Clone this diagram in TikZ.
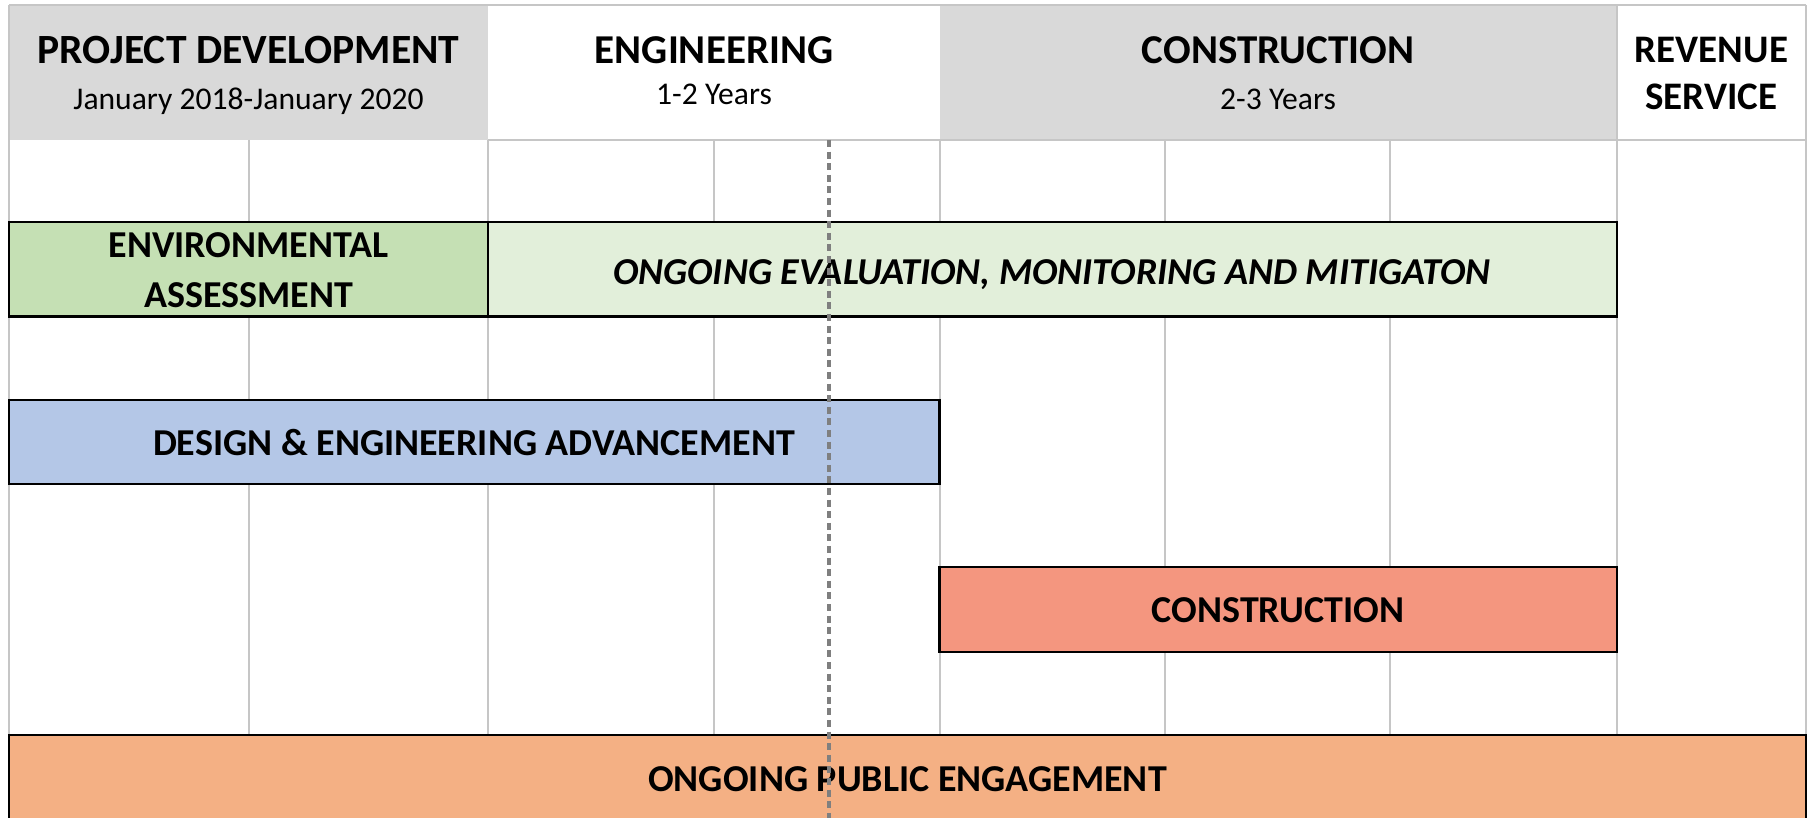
\documentclass[tikz,border=0pt]{standalone}
\usepackage{fontspec}
\setmainfont{Carlito}
\usepackage{xcolor}

\definecolor{headgray}{HTML}{D9D9D9}
\definecolor{gridgray}{HTML}{C6C6C6}
\definecolor{envgreen}{HTML}{C5E0B4}
\definecolor{evalgreen}{HTML}{E2EFDA}
\definecolor{designblue}{HTML}{B4C7E7}
\definecolor{buildred}{HTML}{F4967F}
\definecolor{publicorange}{HTML}{F4B084}
\definecolor{todaygray}{HTML}{7F7F7F}

\begin{document}
\begin{tikzpicture}[x=0.5pt,y=-0.5pt,
			grid line/.style={draw=gridgray,line width=1pt},
			bar/.style={draw=black,line width=1.2pt},
			head text/.style={anchor=base,font=\bfseries\fontsize{20.5}{24}\selectfont},
			sub text/.style={anchor=base,font=\fontsize{15.8}{19}\selectfont},
			bar text/.style={anchor=base,font=\bfseries\fontsize{19}{23}\selectfont}]
			
			\useasboundingbox[fill=white] (0,0) rectangle (1812,818);
			\clip (0,0) rectangle (1812,818);
			
			% header cells
			\fill[headgray] (9,5) rectangle (488,140);
			\fill[headgray] (939.5,5) rectangle (1617,140);
			
			% grid
			\path[grid line]
			(9,5) -- (1806,5)
			(488,140) -- (1806,140)
			(9,5) -- (9,735)
			(248.5,140) -- (248.5,735)
			(488,140) -- (488,735)
			(714,140) -- (714,735)
			(939.5,140) -- (939.5,735)
			(1165,140) -- (1165,735)
			(1390,140) -- (1390,735)
			(1617,5) -- (1617,735)
			(1806,5) -- (1806,735)
			;
			
			% header texts
			\node (pd) [head text,font=\bfseries\fontsize{20.8}{24}\selectfont] at (248.5,64) {PROJECT DEVELOPMENT};
			\node (pd dates) [sub text] at (248.5,110) {January 2018-January 2020};
			\node (eng) [head text] at (714,64) {ENGINEERING};
			\node (eng years) [sub text] at (714,105) {1-2 Years};
			\node (con) [head text] at (1278,64) {CONSTRUCTION};
			\node (con years) [sub text] at (1278,110) {2-3 Years};
			\node (rev) [head text,font=\bfseries\fontsize{19.5}{24}\selectfont] at (1711.5,63) {REVENUE};
			\node (rev service) [head text,font=\bfseries\fontsize{19.5}{24}\selectfont] at (1711.5,110) {SERVICE};
			
			% bars
			\draw[bar,fill=envgreen] (9,222) rectangle (488,316.5);
			\draw[bar,fill=evalgreen] (488,222) rectangle (1617,316.5);
			\draw[bar,fill=designblue] (9,400) rectangle (939.5,484);
			\draw[bar,fill=buildred] (939.5,567) rectangle (1617,652);
			\draw[bar,fill=publicorange] (9,735) rectangle (1806,840);
			
			\node (env) [bar text] at (248.5,258) {ENVIRONMENTAL};
			\node (env assess) [bar text] at (248.5,308) {ASSESSMENT};
			\node (eval) [bar text,font=\bfseries\itshape\fontsize{19}{23}\selectfont] at (1052,285) {ONGOING EVALUATION, MONITORING AND MITIGATON};
			\node (design) [bar text] at (474,456) {DESIGN \& ENGINEERING ADVANCEMENT};
			\node (build) [bar text] at (1278,622) {CONSTRUCTION};
			\node (public) [bar text] at (907.5,791) {ONGOING PUBLIC ENGAGEMENT};
			
			% status line
			\coordinate (today top) at (829,140);
			\coordinate (today bottom) at (829,818);
			\draw[todaygray,line width=1.7pt,dash pattern=on 3.5pt off 2.3pt] (today top) -- (today bottom);
			\end{tikzpicture}
\end{document}
